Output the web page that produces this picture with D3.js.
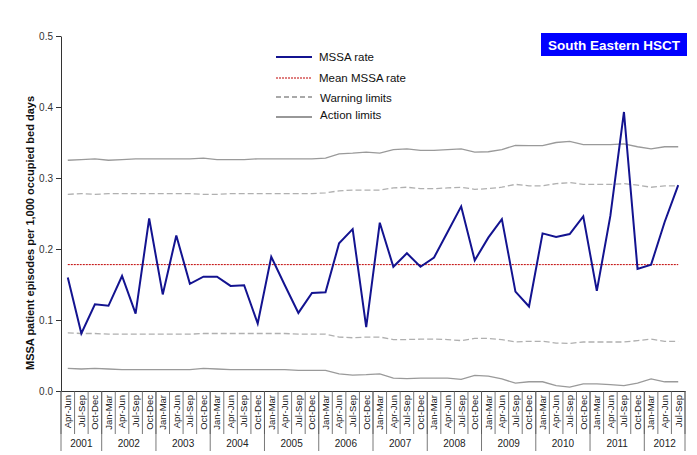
<!DOCTYPE html>
<html><head><meta charset="utf-8">
<script src="https://cdn.jsdelivr.net/npm/d3@7"></script>
<style>body{margin:0;background:#fff}svg{display:block;font-family:"Liberation Sans",Arial,sans-serif}</style>
</head><body><svg id="c" width="697" height="455"></svg>
<script>
const quarters = ["Apr-Jun","Jul-Sep","Oct-Dec",
"Jan-Mar","Apr-Jun","Jul-Sep","Oct-Dec","Jan-Mar","Apr-Jun","Jul-Sep","Oct-Dec",
"Jan-Mar","Apr-Jun","Jul-Sep","Oct-Dec","Jan-Mar","Apr-Jun","Jul-Sep","Oct-Dec",
"Jan-Mar","Apr-Jun","Jul-Sep","Oct-Dec","Jan-Mar","Apr-Jun","Jul-Sep","Oct-Dec",
"Jan-Mar","Apr-Jun","Jul-Sep","Oct-Dec","Jan-Mar","Apr-Jun","Jul-Sep","Oct-Dec",
"Jan-Mar","Apr-Jun","Jul-Sep","Oct-Dec","Jan-Mar","Apr-Jun","Jul-Sep","Oct-Dec",
"Jan-Mar","Apr-Jun","Jul-Sep"];
const years = ["2001","2002","2003","2004","2005","2006","2007","2008","2009","2010","2011","2012"];
const yearCounts = [3,4,4,4,4,4,4,4,4,4,4,3];
const mssaRate = [0.160,0.081,0.122,0.120,0.162,0.109,0.243,0.136,0.219,0.151,0.161,0.161,0.148,0.149,0.095,0.189,0.149,0.110,0.138,0.139,0.208,0.228,0.090,0.237,0.175,0.194,0.175,0.188,0.224,0.260,0.184,0.216,0.242,0.140,0.119,0.222,0.217,0.221,0.246,0.141,0.247,0.393,0.172,0.178,0.238,0.290];
const meanRate = 0.178;
const upperAction = [0.325,0.326,0.327,0.325,0.326,0.327,0.327,0.327,0.327,0.327,0.328,0.326,0.326,0.326,0.327,0.327,0.327,0.327,0.327,0.328,0.334,0.335,0.3365,0.335,0.340,0.341,0.339,0.339,0.340,0.341,0.3365,0.337,0.340,0.346,0.3455,0.3455,0.350,0.3515,0.347,0.347,0.347,0.348,0.344,0.341,0.344,0.344];
const upperWarning = [0.277,0.278,0.277,0.278,0.278,0.278,0.278,0.278,0.278,0.278,0.277,0.277,0.278,0.278,0.278,0.278,0.278,0.278,0.278,0.279,0.282,0.283,0.283,0.283,0.286,0.287,0.285,0.285,0.286,0.287,0.284,0.285,0.287,0.291,0.289,0.289,0.292,0.2935,0.291,0.291,0.291,0.292,0.290,0.287,0.289,0.289];
const lowerWarning = [0.082,0.081,0.081,0.080,0.080,0.080,0.080,0.080,0.080,0.080,0.081,0.081,0.081,0.081,0.081,0.081,0.081,0.080,0.080,0.080,0.076,0.075,0.076,0.076,0.0725,0.0725,0.073,0.073,0.0725,0.071,0.074,0.074,0.0725,0.069,0.070,0.070,0.0675,0.067,0.069,0.069,0.069,0.069,0.071,0.073,0.070,0.070];
const lowerAction = [0.032,0.031,0.032,0.031,0.030,0.030,0.030,0.030,0.030,0.030,0.032,0.031,0.030,0.030,0.030,0.030,0.030,0.029,0.029,0.029,0.024,0.0225,0.023,0.024,0.018,0.0175,0.018,0.018,0.018,0.0165,0.022,0.021,0.017,0.011,0.013,0.013,0.0075,0.0056,0.010,0.010,0.009,0.0075,0.011,0.017,0.013,0.013];
const yTicks = [0,0.1,0.2,0.3,0.4,0.5];
const titleText = "South Eastern HSCT";
const yTitle = "MSSA patient episodes per 1,000 occupied bed days";
const legendItems = ["MSSA rate","Mean MSSA rate","Warning limits","Action limits"];

const svg = d3.select("#c");
const L=61, R=685, T=36, B=391;
const idx = d3.range(quarters.length);
const x = d3.scaleBand().domain(idx).range([L,R]).padding(0);
const y = d3.scaleLinear().domain([0,0.5]).range([B,T]);
const cx = i => x(i)+x.bandwidth()/2;

// y axis
const ya = svg.append("g").attr("transform",`translate(${L},0)`)
  .call(d3.axisLeft(y).tickValues(yTicks).tickFormat(d3.format(".1f")).tickSize(5).tickSizeOuter(0));
ya.select(".domain").attr("stroke","#333");
ya.selectAll(".tick line").attr("stroke","#333");
ya.selectAll("text").attr("font-size",10).attr("fill","#333").attr("font-family","Liberation Sans, Arial");

svg.append("text").attr("transform",`translate(34,233) rotate(-90)`)
  .attr("text-anchor","middle").attr("font-size",11).attr("font-weight","bold").attr("fill","#111").text(yTitle);

// x axis
const xa = svg.append("g").attr("transform",`translate(0,${B})`)
  .call(d3.axisBottom(x).tickFormat(i=>quarters[i]).tickSize(0).tickSizeOuter(0));
xa.select(".domain").attr("stroke","#333");
xa.selectAll(".tick text").attr("transform","rotate(-90)").attr("text-anchor","end")
  .attr("x",-4).attr("y",0).attr("dy","0.35em").attr("font-size",9.5).attr("fill","#222").attr("font-family","Liberation Sans, Arial");
// category separators
svg.append("g").selectAll("line").data(d3.range(quarters.length+1)).join("line")
  .attr("x1",i=>i<quarters.length?x(i):R).attr("x2",i=>i<quarters.length?x(i):R)
  .attr("y1",B).attr("y2",434).attr("stroke","#555").attr("stroke-width",0.8);
// year separators & labels
let acc=0; const yearStarts=[];
yearCounts.forEach(c=>{yearStarts.push(acc); acc+=c;});
const xAt = k => k<quarters.length ? x(k) : R;
svg.append("g").selectAll("line").data(yearStarts.concat([quarters.length])).join("line")
  .attr("x1",xAt).attr("x2",xAt).attr("y1",B).attr("y2",451).attr("stroke","#555").attr("stroke-width",0.8);
svg.append("g").selectAll("text").data(years).join("text")
  .attr("x",(d,j)=>(xAt(yearStarts[j])+xAt(yearStarts[j]+yearCounts[j]))/2)
  .attr("y",447).attr("text-anchor","middle").attr("font-size",10).attr("fill","#222").text(d=>d);

// lines
const line = d3.line().x((d,i)=>cx(i)).y(d=>y(d));
const grp = svg.append("g").attr("fill","none");
grp.append("path").datum(upperAction).attr("d",line).attr("stroke","#9a9a9a").attr("stroke-width",1.3);
grp.append("path").datum(lowerAction).attr("d",line).attr("stroke","#9a9a9a").attr("stroke-width",1.3);
grp.append("path").datum(upperWarning).attr("d",line).attr("stroke","#b0b0b0").attr("stroke-width",1.3).attr("stroke-dasharray","6,3");
grp.append("path").datum(lowerWarning).attr("d",line).attr("stroke","#b0b0b0").attr("stroke-width",1.3).attr("stroke-dasharray","6,3");
grp.append("path").datum(idx.map(()=>meanRate)).attr("d",line).attr("stroke","#c00000").attr("stroke-width",1).attr("stroke-dasharray","2,1");
grp.append("path").datum(mssaRate).attr("d",line).attr("stroke","#131390").attr("stroke-width",2);

// legend
const lg = svg.append("g");
const ly = [57,78,97,117], ty=[61,82,102,119];
const lstyles = [{c:"#131390",w:2,d:null},{c:"#c00000",w:1,d:"2,1"},{c:"#555",w:1.2,d:"5,3"},{c:"#333",w:1.2,d:null}];
legendItems.forEach((t,k)=>{
  lg.append("line").attr("x1",276).attr("x2",312).attr("y1",ly[k]).attr("y2",ly[k])
    .attr("stroke",lstyles[k].c).attr("stroke-width",lstyles[k].w).attr("stroke-dasharray",lstyles[k].d);
  lg.append("text").attr("x",k<2?319:320).attr("y",ty[k]).attr("font-size",11.5).attr("fill","#111").text(t);
});

// title box
svg.append("rect").attr("x",541).attr("y",33).attr("width",146).attr("height",23).attr("fill","#0000ff");
svg.append("text").attr("x",614).attr("y",49.5).attr("text-anchor","middle").attr("font-size",13.5)
  .attr("font-weight","bold").attr("fill","#fff").text(titleText);
</script></body></html>
